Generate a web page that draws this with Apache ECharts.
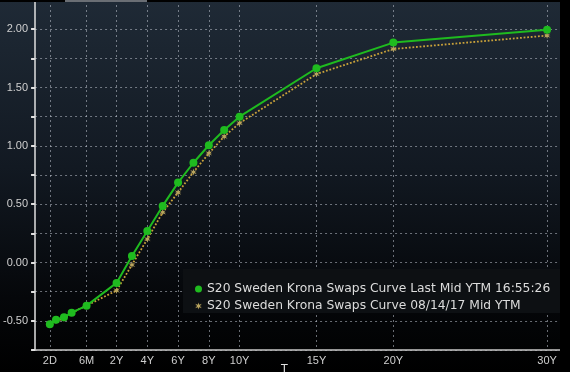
<!DOCTYPE html>
<html><head><meta charset="utf-8">
<script src="https://cdn.jsdelivr.net/npm/echarts@6/dist/echarts.min.js"></script>
<style>html,body{margin:0;padding:0;background:#000;}#c{width:570px;height:372px;}</style>
</head><body><div id="c"></div>
<script>
// Tenors of the curve points and their position on Bloomberg's (compressed short-end) tenor axis
const tenors = ['2D','1M','2M','3M','6M','2Y','3Y','4Y','5Y','6Y','7Y','8Y','9Y','10Y','15Y','20Y','30Y'];
const tenorAxisPos = [-2.34,-1.94,-1.42,-0.92,0.05,2,3,4,5,6,7,8,9,10,15,20,30];
// Mid YTM values (%)
const lastMid = [-0.53,-0.49,-0.47,-0.43,-0.37,-0.175,0.055,0.27,0.485,0.685,0.855,1.005,1.135,1.25,1.665,1.885,1.995];
const prevMid = [-0.53,-0.50,-0.48,-0.43,-0.37,-0.24,-0.02,0.20,0.43,0.60,0.775,0.935,1.08,1.195,1.615,1.83,1.945];
// x-axis tick labels and their axis positions
const xTickLabels = ['2D','6M','2Y','4Y','6Y','8Y','10Y','15Y','20Y','30Y'];
const xTickPos = [-2.34,0.05,2,4,6,8,10,15,20,30];
const seriesNames = ['S20 Sweden Krona Swaps Curve Last Mid YTM 16:55:26','S20 Sweden Krona Swaps Curve 08/14/17 Mid YTM'];

const starPath = 'path://M5,0L6,3.3L9.8,1.9L7,4.6L10,5L7,5.4L9.8,8.1L6,6.7L5,10L4,6.7L0.2,8.1L3,5.4L0,5L3,4.6L0.2,1.9L4,3.3Z';
const axisFont = "'Liberation Sans Narrow','Liberation Sans',sans-serif";

const chart = echarts.init(document.getElementById('c'), null, {renderer:'canvas'});
chart.setOption({
  animation:false,
  backgroundColor:{type:'linear',x:0,y:0,x2:0,y2:1,colorStops:[
    {offset:0,color:'#1f2a36'},{offset:0.45,color:'#121922'},{offset:0.8,color:'#05070a'},{offset:1,color:'#000'}]},
  grid:{left:33,right:10,top:0,bottom:22,containLabel:false},
  xAxis:{type:'value',min:-3.3,max:30.84,
    axisLine:{show:true,onZero:false,lineStyle:{color:'#c8c8c8',width:1.5}},
    axisTick:{show:false,customValues:xTickPos},
    axisLabel:{customValues:xTickPos,color:'#d0d0d0',fontSize:11,fontFamily:axisFont,margin:5,
      formatter:function(v){for(let i=0;i<xTickPos.length;i++){if(Math.abs(xTickPos[i]-v)<1e-6)return xTickLabels[i];}return '';}},
    splitLine:{show:true,lineStyle:{color:'rgba(190,195,205,0.55)',type:[2,3],width:1}}
  },
  yAxis:{type:'value',min:-0.75,max:2.25,interval:0.25,
    axisLine:{show:true,onZero:false,lineStyle:{color:'#e0e0e0',width:1.5}},
    axisTick:{show:true,length:4,lineStyle:{color:'#e0e0e0',width:2}},
    axisLabel:{color:'#d0d0d0',fontSize:11,fontFamily:axisFont,margin:7,
      formatter:function(v){const h=v*2;return (Math.abs(h-Math.round(h))<1e-6 && v>-0.6 && v<2.1)?v.toFixed(2):'';}},
    splitLine:{show:true,lineStyle:{color:'rgba(190,195,205,0.55)',type:[2,3],width:1}}
  },
  legend:{orient:'vertical',left:190,top:277,itemWidth:7,itemHeight:7,itemGap:3,z:20,
    textStyle:{color:'#dcdcdc',fontSize:12.3,fontFamily:"'DejaVu Sans',sans-serif",lineHeight:14},
    data:[{name:seriesNames[0],icon:'circle'},{name:seriesNames[1],icon:starPath}]
  },
  graphic:[
    {type:'rect',z:10,shape:{x:183,y:269,width:377,height:44},style:{fill:'#0d1013'}},
    {type:'rect',z:10,shape:{x:560,y:0,width:10,height:372},style:{fill:'#000'}},
    {type:'rect',z:10,shape:{x:0,y:0,width:560,height:2},style:{fill:'#000'}},
    {type:'rect',z:11,shape:{x:65,y:0,width:82,height:2},style:{fill:'#6a6e74'}},
    {type:'text',z:11,left:281,top:364,style:{text:'T',fill:'#e0e0e0',font:"11px 'DejaVu Sans'"}}
  ],
  series:[
    {name:seriesNames[0],type:'line',z:4,data:tenorAxisPos.map((x,i)=>[x,lastMid[i]]),
      symbol:'circle',symbolSize:8,showSymbol:true,
      lineStyle:{color:'#1fbb1f',width:2},itemStyle:{color:'#1fbb1f'}},
    {name:seriesNames[1],type:'line',z:3,data:tenorAxisPos.map((x,i)=>[x,prevMid[i]]),
      symbol:starPath,symbolSize:7,showSymbol:true,
      lineStyle:{color:'#c9a23a',width:1.8,type:'dotted'},itemStyle:{color:'#b8a45e'}}
  ]
});
</script></body></html>
